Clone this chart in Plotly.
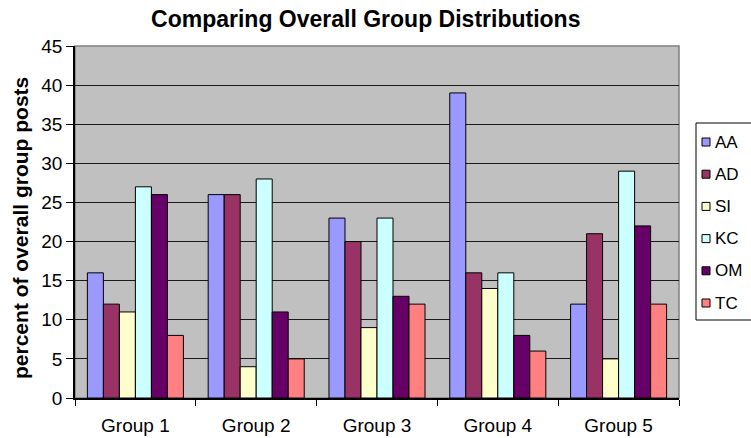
import plotly.graph_objects as go

categories = ["Group 1", "Group 2", "Group 3", "Group 4", "Group 5"]
series_names = ["AA", "AD", "SI", "KC", "OM", "TC"]
aa = [16, 26, 23, 39, 12]
ad = [12, 26, 20, 16, 21]
si = [11, 4, 9, 14, 5]
kc = [27, 28, 23, 16, 29]
om = [26, 11, 13, 8, 22]
tc = [8, 5, 12, 6, 12]
y_ticks = [0, 5, 10, 15, 20, 25, 30, 35, 40, 45]

series_values = [aa, ad, si, kc, om, tc]
colors = ["#9999FF", "#993366", "#FFFFCC", "#CCFFFF", "#660066", "#FF8080"]

FONT = "Liberation Sans, Arial, sans-serif"
W, H = 751, 438
L, R, T, B = 75, 72, 46, 40
PW, PH = W - L - R, H - T - B


def px_x(p):
    return (p - L) / PW


def px_y(p):
    return (H - B - p) / PH


fig = go.Figure()
for name, vals, col in zip(series_names, series_values, colors):
    fig.add_trace(go.Bar(
        x=categories, y=vals, name=name, showlegend=False,
        marker=dict(color=col, line=dict(color="black", width=1)),
    ))

shapes = [dict(
    type="rect", xref="paper", yref="paper", x0=0, x1=1, y0=0, y1=1,
    line=dict(color="#808080", width=1.5), fillcolor="rgba(0,0,0,0)",
    layer="below",
)]
annotations = [dict(
    text="<b>percent of overall group posts</b>",
    xref="paper", yref="paper",
    x=px_x(21), y=0.483,
    xanchor="center", yanchor="middle",
    textangle=-90, showarrow=False,
    font=dict(family=FONT, size=21, color="black"),
)]

# legend box (cut off at right edge as in the original)
leg_left, leg_top, leg_bot = 696, 123, 320
shapes.append(dict(
    type="rect", xref="paper", yref="paper",
    x0=px_x(leg_left), x1=px_x(W + 10), y0=px_y(leg_bot), y1=px_y(leg_top),
    line=dict(color="black", width=1), fillcolor="white", layer="above",
))
step = (303 - 142) / (len(series_names) - 1)
for i, (name, col) in enumerate(zip(series_names, colors)):
    cy = 142 + i * step
    shapes.append(dict(
        type="rect", xref="paper", yref="paper",
        x0=px_x(702), x1=px_x(710), y0=px_y(cy + 4), y1=px_y(cy - 4),
        line=dict(color="black", width=1), fillcolor=col, layer="above",
    ))
    annotations.append(dict(
        text=name, xref="paper", yref="paper",
        x=px_x(713), y=px_y(cy), xanchor="left", yanchor="middle",
        showarrow=False, font=dict(family=FONT, size=17, color="black"),
    ))

fig.update_layout(
    width=W, height=H,
    margin=dict(l=L, r=R, t=T, b=B, autoexpand=False),
    paper_bgcolor="white",
    plot_bgcolor="#C0C0C0",
    barmode="group",
    bargap=0.205,
    bargroupgap=0,
    showlegend=False,
    font=dict(family=FONT, size=19, color="black"),
    title=dict(
        text="<b>Comparing Overall Group Distributions</b>",
        font=dict(family=FONT, size=23, color="black"),
        x=0.487, xanchor="center", xref="container",
        y=1 - 19 / H, yanchor="middle", yref="container",
    ),
    xaxis=dict(
        showgrid=False,
        ticks="outside", ticklen=6, tickcolor="black", tickwidth=1,
        tickson="boundaries",
        showline=True, linecolor="black", linewidth=1.5,
        ticklabelstandoff=9,
        tickfont=dict(family=FONT, size=19),
    ),
    yaxis=dict(
        range=[0, 45],
        tickvals=y_ticks,
        showgrid=True, gridcolor="#1a1a1a", gridwidth=1,
        zeroline=False,
        ticks="outside", ticklen=7, tickcolor="black", tickwidth=1,
        showline=True, linecolor="black", linewidth=1.5,
        ticklabelstandoff=0,
        tickfont=dict(family=FONT, size=19),
    ),
    shapes=shapes,
    annotations=annotations,
)

fig.write_html("out.html")
